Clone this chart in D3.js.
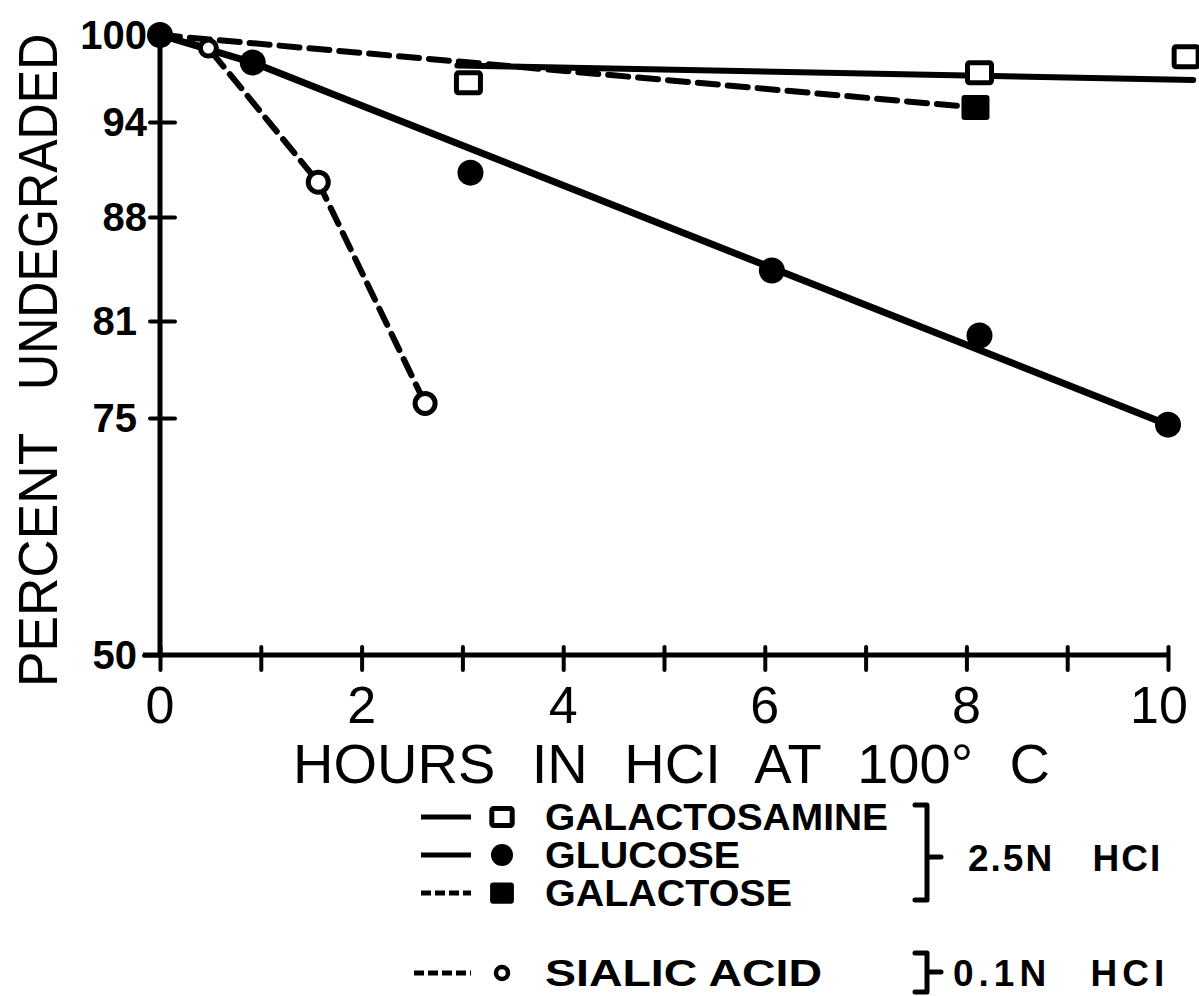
<!DOCTYPE html>
<html>
<head>
<meta charset="utf-8">
<script src="https://cdn.jsdelivr.net/npm/d3@7"></script>
<style>
  body { margin: 0; background: white; }
  text { font-family: "Liberation Sans", Arial, sans-serif; fill: black; }
</style>
</head>
<body>
<div id="chart"></div>
<script>
// values
var hourTicks = [0, 1, 2, 3, 4, 5, 6, 7, 8, 9, 10];
var hourLabels = [0, 2, 4, 6, 8, 10];
var percentTicks = [100, 94, 88, 81, 75, 50];

var galactosamineHours = [3.06, 8.13, 10.18];
var galactosamineValues = [96.7, 97.4, 98.5];
var galactosamineFitHours = [2.95, 10.25];
var galactosamineFitValues = [97.9, 96.9];

var glucoseHours = [0, 0.92, 3.08, 6.07, 8.13, 10.0];
var glucoseValues = [100, 98.1, 90.8, 84.4, 80.1, 74.3];
var glucoseFitHours = [0, 0.92, 10.0];
var glucoseFitValues = [100, 98.1, 74.3];

var galactoseHours = [8.09];
var galactoseValues = [95.0];
var galactoseLineHours = [0, 8.09];
var galactoseLineValues = [100, 95.0];

var sialicHours = [0.48, 1.57, 2.63];
var sialicValues = [99.1, 90.2, 75.9];
var sialicLineHours = [0, 0.48, 1.57, 2.63];
var sialicLineValues = [100, 99.1, 90.2, 75.9];

var legendNames = ["GALACTOSAMINE", "GLUCOSE", "GALACTOSE", "SIALIC ACID"];
var legendMarks = ["openSquare", "dot", "square", "ring"];
var legendDashed = [false, false, true, true];
var acidLabels = ["2.5N HCI", "0.1N HCI"];

var width = 1199, height = 996;

var svg = d3.select("#chart").append("svg")
    .attr("width", width)
    .attr("height", height);

svg.append("rect").attr("width", width).attr("height", height).attr("fill", "white");

var x = d3.scaleLinear().domain([0, 10]).range([160, 1168]);
// axis of the original is not evenly spaced, so map through the tick marks
var y = d3.scaleLinear()
    .domain([50, 75, 81, 88, 94, 100])
    .range([655, 418, 321, 217, 122, 35]);

function zip(a, b) { return a.map(function(d, i) { return [d, b[i]]; }); }

var line = d3.line().x(function(d) { return x(d[0]); }).y(function(d) { return y(d[1]); });

// axes
var xAxis = svg.append("g")
    .attr("transform", "translate(0,655)")
    .call(d3.axisBottom(x).tickValues(hourTicks).tickSize(15).tickFormat(""));
xAxis.select(".domain").attr("d", "M143,0H" + x(10)).attr("stroke-width", 5).attr("stroke", "black");
xAxis.selectAll(".tick line").attr("y1", -8).attr("stroke-width", 4).attr("stroke-linecap", "round");

xAxis.selectAll(".lbl")
    .data(hourLabels)
  .enter().append("text")
    .attr("x", function(d) { return x(d); })
    .attr("dx", function(d) { return d == 10 ? -9 : 0; })
    .attr("y", 68)
    .attr("text-anchor", "middle")
    .style("font-size", "52px")
    .text(function(d) { return d; });

var yAxis = svg.append("g")
    .attr("transform", "translate(160,0)")
    .call(d3.axisLeft(y).tickValues(percentTicks).tickSize(10).tickFormat(""));
yAxis.select(".domain").attr("d", "M0,30V655").attr("stroke-width", 5).attr("stroke", "black");
yAxis.selectAll(".tick line")
    .attr("x1", function(d) { return d == 50 ? 0 : 15; })
    .attr("x2", function(d) { return d == 50 ? -16 : -10; })
    .attr("stroke-width", 4)
    .attr("stroke-linecap", "round");

yAxis.selectAll(".lbl")
    .data(percentTicks)
  .enter().append("text")
    .attr("x", function(d) { return d > 85 ? -13 : -23; })
    .attr("y", function(d) { return y(d); })
    .attr("dy", "0.36em")
    .attr("text-anchor", "end")
    .style("font-size", "40px")
    .style("font-weight", "bold")
    .text(function(d) { return d; });

svg.append("text")
    .attr("x", 293)
    .attr("y", 783)
    .style("font-size", "56px")
    .style("word-spacing", "21px")
    .text("HOURS IN HCI AT 100° C");

// y title in two words, as lettered (narrowed a little)
svg.append("text")
    .attr("transform", "translate(57,687) rotate(-90) scale(0.95,1)")
    .style("font-size", "56px")
    .text("PERCENT");
svg.append("text")
    .attr("transform", "translate(57,390) rotate(-90) scale(0.895,1)")
    .style("font-size", "56px")
    .text("UNDEGRADED");

// lines
var plot = svg.append("g");

plot.append("path").datum(zip(galactoseLineHours, galactoseLineValues))
    .attr("d", line).attr("fill", "none").attr("stroke", "black")
    .attr("stroke-width", 6).attr("stroke-dasharray", "20,10").attr("stroke-linecap", "round");

plot.append("path").datum(zip(sialicLineHours, sialicLineValues))
    .attr("d", line).attr("fill", "none").attr("stroke", "black")
    .attr("stroke-width", 6).attr("stroke-dasharray", "18,10").attr("stroke-linecap", "round");

plot.append("path").datum(zip(galactosamineFitHours, galactosamineFitValues))
    .attr("d", line).attr("fill", "none").attr("stroke", "black")
    .attr("stroke-width", 6).attr("stroke-linecap", "round");

plot.append("path").datum(zip(glucoseFitHours, glucoseFitValues))
    .attr("d", line).attr("fill", "none").attr("stroke", "black")
    .attr("stroke-width", 7).attr("stroke-linecap", "round");

// markers
function drawMark(g, kind, cx, cy, big) {
  var s = big ? 1 : 0.85;
  if (kind == "openSquare") {
    g.append("rect").attr("x", cx - 12 * s).attr("y", cy - 10 * s)
      .attr("width", 24 * s).attr("height", 20 * s).attr("rx", 2)
      .attr("fill", "white").attr("stroke", "black").attr("stroke-width", 5);
  } else if (kind == "square") {
    g.append("rect").attr("x", cx - 14 * s).attr("y", cy - 12.5 * s)
      .attr("width", 28 * s).attr("height", 25 * s).attr("rx", 3).attr("fill", "black");
  } else if (kind == "dot") {
    g.append("circle").attr("cx", cx).attr("cy", cy).attr("r", 13 * s).attr("fill", "black");
  } else if (kind == "ring") {
    g.append("circle").attr("cx", cx).attr("cy", cy).attr("r", big ? 9.5 : 6)
      .attr("fill", "white").attr("stroke", "black").attr("stroke-width", big ? 5 : 4.5);
  }
}

var marks = svg.append("g");
zip(glucoseHours, glucoseValues).forEach(function(d) { drawMark(marks, "dot", x(d[0]), y(d[1]), true); });
zip(galactosamineHours, galactosamineValues).forEach(function(d) { drawMark(marks, "openSquare", x(d[0]), y(d[1]), true); });
zip(galactoseHours, galactoseValues).forEach(function(d) { drawMark(marks, "square", x(d[0]), y(d[1]), true); });
zip(sialicHours, sialicValues).forEach(function(d, i) {
  marks.append("circle").attr("cx", x(d[0])).attr("cy", y(d[1])).attr("r", i == 0 ? 8 : 10)
    .attr("fill", "white").attr("stroke", "black").attr("stroke-width", 5);
});

// legend
var legendRows = [817, 855, 893, 973];
var legendTextLen = [343, 195, 247, 277];
var legend = svg.append("g");
legendNames.forEach(function(name, i) {
  var ly = legendRows[i];
  legend.append("line")
    .attr("x1", i == 3 ? 414 : 421).attr("x2", 471).attr("y1", ly).attr("y2", ly)
    .attr("stroke", "black").attr("stroke-width", 5)
    .attr("stroke-dasharray", legendDashed[i] ? "10,4" : null);
  drawMark(legend, legendMarks[i], 502, ly, false);
  legend.append("text")
    .attr("x", 545).attr("y", ly + 13)
    .attr("textLength", legendTextLen[i])
    .attr("lengthAdjust", "spacingAndGlyphs")
    .style("font-size", "37px").style("font-weight", "bold")
    .text(name);
});

// brackets
var brackets = [[805, 900, 857], [953, 992, 972]];
var acidX = [968, 953];
var acidLetter = [2, 5];
var acidWord = [26, 24];
brackets.forEach(function(b, i) {
  legend.append("path")
    .attr("d", "M915," + b[0] + "H927V" + b[1] + "H915M927," + b[2] + "H941")
    .attr("fill", "none").attr("stroke", "black").attr("stroke-width", 5)
    .attr("stroke-linejoin", "round").attr("stroke-linecap", "round");
  legend.append("text")
    .attr("x", acidX[i]).attr("y", b[2] + 14)
    .style("font-size", "37px").style("font-weight", "bold")
    .style("letter-spacing", acidLetter[i] + "px")
    .style("word-spacing", acidWord[i] + "px")
    .text(acidLabels[i]);
});
</script>
</body>
</html>
